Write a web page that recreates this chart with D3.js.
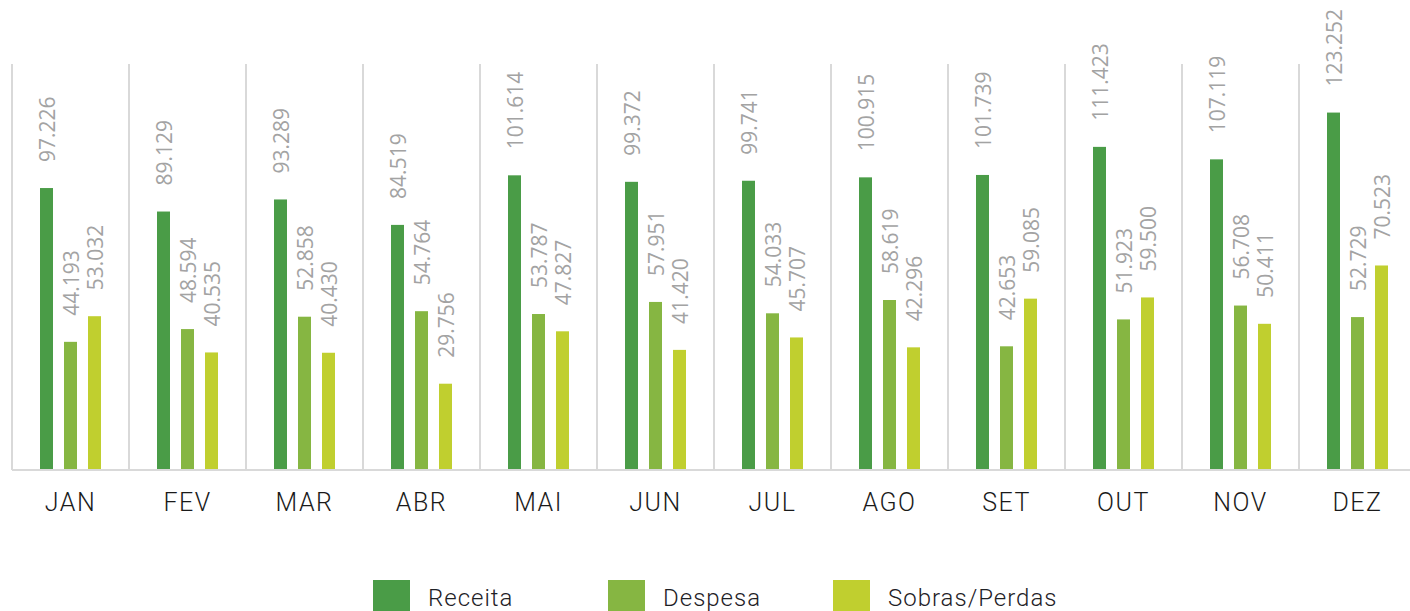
<!DOCTYPE html>
<html>
<head>
<meta charset="utf-8">
<script src="https://cdn.jsdelivr.net/npm/d3@7"></script>
<style>
  body { margin: 0; background: #fff; }
  svg { display: block; }
  .grid-line { stroke: #d9d9d9; stroke-width: 2; }
  .value-label { fill: #a3a3a3; font-family: "Open Sans", sans-serif; font-size: 21px; }
  .cat-label { fill: #1a1a1a; font-family: Roboto, sans-serif; font-weight: 300; font-size: 25px; letter-spacing: 1.5px; }
  .legend-text { fill: #1e2126; font-family: Roboto, sans-serif; font-weight: 300; font-size: 24px; letter-spacing: 1px; }
</style>
</head>
<body>
<svg id="chart" width="1410" height="611"></svg>
<script>
// months and series (values in thousands, pt-BR notation on labels)
const months = ["JAN", "FEV", "MAR", "ABR", "MAI", "JUN", "JUL", "AGO", "SET", "OUT", "NOV", "DEZ"];
const seriesNames = ["Receita", "Despesa", "Sobras/Perdas"];
const receita = [97.226, 89.129, 93.289, 84.519, 101.614, 99.372, 99.741, 100.915, 101.739, 111.423, 107.119, 123.252];
const despesa = [44.193, 48.594, 52.858, 54.764, 53.787, 57.951, 54.033, 58.619, 42.653, 51.923, 56.708, 52.729];
const sobras = [53.032, 40.535, 40.430, 29.756, 47.827, 41.420, 45.707, 42.296, 59.085, 59.500, 50.411, 70.523];
const colors = ["#4a9c47", "#86b642", "#c0cf2f"];

const seriesValues = [receita, despesa, sobras];

const svg = d3.select("#chart");
const baseY = 470, topY = 64;

const xScale = d3.scaleBand().domain(months).range([12, 12 + 117 * 12]).padding(0);
const xInner = d3.scaleBand().domain(seriesNames).range([28, 89]).paddingInner(11 / 24).paddingOuter(0);
const yScale = d3.scaleLinear().domain([0, 140]).range([baseY, topY]);
const color = d3.scaleOrdinal().domain(seriesNames).range(colors);

// vertical separators between months
svg.append("g").selectAll("line")
    .data(months)
    .join("line")
    .attr("class", "grid-line")
    .attr("x1", d => xScale(d))
    .attr("x2", d => xScale(d))
    .attr("y1", topY)
    .attr("y2", baseY);

// bars + rotated labels
const fmt = v => v.toFixed(3);
seriesNames.forEach((name, si) => {
    const g = svg.append("g");
    const rows = months.map((m, i) => ({ m: m, v: seriesValues[si][i] }));

    g.selectAll("rect")
        .data(rows)
        .join("rect")
        .attr("x", d => xScale(d.m) + xInner(name))
        .attr("y", d => yScale(d.v))
        .attr("width", xInner.bandwidth())
        .attr("height", d => baseY - yScale(d.v))
        .attr("fill", color(name));

    g.selectAll("text")
        .data(rows)
        .join("text")
        .attr("class", "value-label")
        .attr("transform", d => {
            const cx = xScale(d.m) + xInner(name) + xInner.bandwidth() / 2 + 1;
            return "translate(" + cx + "," + (yScale(d.v) - 26) + ") rotate(-90)";
        })
        .attr("dy", "0.36em")
        .text(d => fmt(d.v));
});

// baseline
svg.append("line")
    .attr("class", "grid-line")
    .attr("x1", 12).attr("x2", 1410)
    .attr("y1", baseY).attr("y2", baseY);

// month labels
svg.append("g").selectAll("text")
    .data(months)
    .join("text")
    .attr("class", "cat-label")
    .attr("x", d => xScale(d) + xScale.bandwidth() / 2)
    .attr("y", 511)
    .attr("text-anchor", "middle")
    .text(d => d);

// legend
const legendX = [373, 608, 833];
const legend = svg.append("g").selectAll("g")
    .data(seriesNames)
    .join("g")
    .attr("transform", (d, i) => "translate(" + legendX[i] + ",580)");
legend.append("rect")
    .attr("width", 37).attr("height", 37)
    .attr("fill", d => color(d));
legend.append("text")
    .attr("class", "legend-text")
    .attr("x", 55).attr("y", 26)
    .text(d => d);
</script>
</body>
</html>
